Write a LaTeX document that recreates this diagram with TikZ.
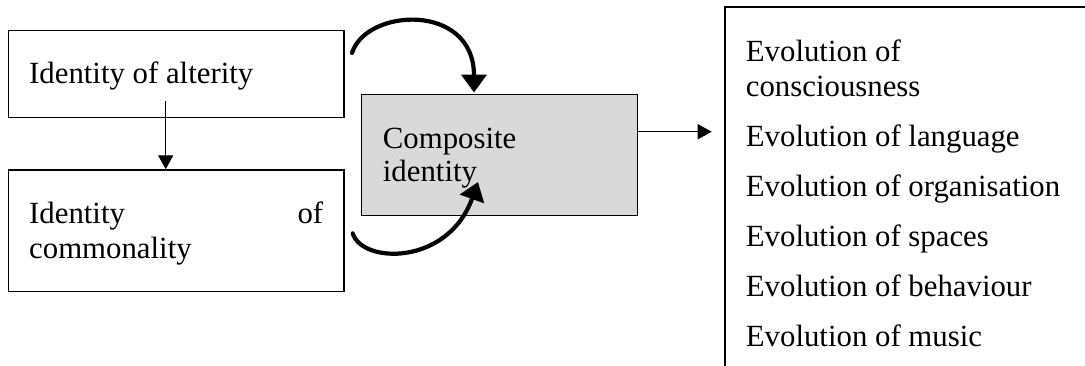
\documentclass[tikz,border=0pt]{standalone}
\usepackage{fontspec}
\setmainfont{Liberation Serif}
\usetikzlibrary{arrows.meta}

\tikzset{
  plainbox/.style={draw=black, line width=1.3pt, inner sep=0pt, anchor=north west},
  greybox/.style={plainbox, fill=boxgrey},
  label/.style={inner sep=0pt, anchor=base west, font=\fontsize{30.8}{35}\selectfont},
  thinarrow/.style={line width=1.2pt, -{Triangle[width=15pt,length=14pt]}},
  bentarrow/.style={line width=4.2pt, line cap=round, -{Triangle[width=25pt,length=18pt]}}
}
\definecolor{boxgrey}{HTML}{D9D9D9}

\begin{document}
\begin{tikzpicture}[x=1pt, y=-1pt]
  \useasboundingbox (0,0) rectangle (1085,365);

  % left column: the two identities
  \node[plainbox, minimum width=335.6pt, minimum height=86.7pt] (alterity) at (7.7,30) {};
  \node[label] (alterityText) at (29,83.3) {Identity of alterity};

  \node[plainbox, minimum width=335.6pt, minimum height=121.4pt] (commonality) at (7.7,169.3) {};
  \node[label, text width=294pt, align=left] (commonalityText1) at (29,223.3) {Identity\hfill of};
  \node[label] (commonalityText2) at (29,258.3) {commonality};

  % middle: composite identity
  \node[greybox, minimum width=276pt, minimum height=121pt] (composite) at (360.7,94) {};
  \node[label] (compositeText1) at (382.7,148.3) {Composite};
  \node[label] (compositeText2) at (382.7,181) {identity};

  % right: evolutions (box runs off the page to the right and bottom)
  \node[plainbox, line width=1.5pt, minimum width=420pt, minimum height=420pt] (evolution) at (724,6) {};
  \node[label] (ev1a) at (745.7,61.7) {Evolution of};
  \node[label] (ev1b) at (745.7,96.7) {consciousness};
  \node[label] (ev2) at (745.7,146.7) {Evolution of language};
  \node[label] (ev3) at (745.7,196.7) {Evolution of organisation};
  \node[label] (ev4) at (745.7,246.7) {Evolution of spaces};
  \node[label] (ev5) at (745.7,296.7) {Evolution of behaviour};
  \node[label] (ev6) at (745.7,346.7) {Evolution of music};

  % connectors
  \coordinate (downStart) at (165.7,101);
  \draw[thinarrow] (downStart) -- (downStart |- commonality.north);

  \coordinate (rightEnd) at (711.7,131.7);
  \draw[thinarrow] (composite.east |- rightEnd) -- (rightEnd);

  \coordinate (topStart) at (352,53);
  \coordinate (topTip) at (474,92.5);
  \draw[bentarrow] (topStart) .. controls (366,8) and (474,2) .. (topTip);

  \coordinate (bottomStart) at (352.7,233.3);
  \coordinate (bottomTip) at (478,182);
  \draw[bentarrow] (bottomStart) .. controls (362,264) and (448,266) .. (bottomTip);
\end{tikzpicture}
\end{document}
